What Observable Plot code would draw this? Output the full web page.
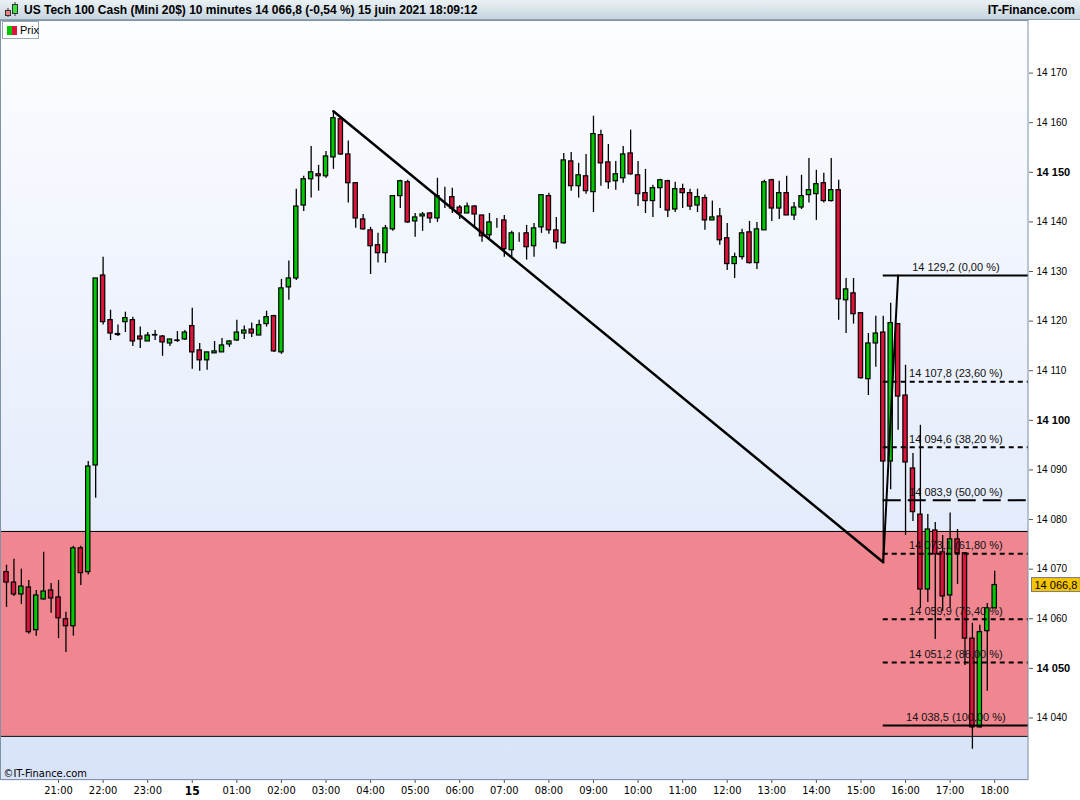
<!DOCTYPE html>
<html><head><meta charset="utf-8">
<script src="https://cdn.jsdelivr.net/npm/d3@7"></script>
<script src="https://cdn.jsdelivr.net/npm/@observablehq/plot@0.6"></script>
<style>
body{margin:0;background:#fff;width:1080px;height:800px;overflow:hidden;font-family:"Liberation Sans",Arial,sans-serif;}
#header{position:absolute;left:0;top:0;width:1080px;height:20px;background:linear-gradient(#eaf1f5,#c7d5df);border-bottom:1px solid #8fa3b3;box-sizing:border-box;}
#icon{position:absolute;left:3px;top:2px;}
#title{position:absolute;left:24px;top:3px;font-weight:bold;font-size:12px;color:#000;white-space:nowrap;}
#site{position:absolute;right:5px;top:3px;font-weight:bold;font-size:12px;color:#000;}
#chart{position:absolute;left:0;top:20px;}
#legend{position:absolute;left:2px;top:21px;width:37px;height:18px;background:#fff;border:1px solid #9aa6b0;box-sizing:border-box;font-size:11px;z-index:2;}
#legend .g{position:absolute;left:4px;top:4px;width:5px;height:9px;background:#00c800;}
#legend .r{position:absolute;left:9px;top:4px;width:5px;height:9px;background:#dc143c;}
#legend span{position:absolute;left:17px;top:2px;}
</style></head>
<body>
<div id="header">
  <svg id="icon" width="18" height="16"><line x1="5" y1="6" x2="5" y2="15" stroke="#333"/><rect x="2.5" y="8.5" width="5" height="5" fill="#f08080" stroke="#333"/><line x1="12" y1="0" x2="12" y2="14" stroke="#333"/><rect x="9.5" y="2.5" width="5" height="9" fill="#40e040" stroke="#333"/></svg>
  <div id="title">US Tech 100 Cash (Mini 20$) 10 minutes 14 066,8 (-0,54 %) 15 juin 2021 18:09:12</div>
  <div id="site">IT-Finance.com</div>
</div>
<div id="legend"><div class="g"></div><div class="r"></div><span>Prix</span></div>
<div id="chart"></div>
<script>
// ---- data (10-minute candles, 14 juin 19:50 -> 15 juin 18:00) ----
const firstCandle = "2021-06-14T19:50:00Z";
const opens = [14069.4,14067.3,14064.9,14066.3,14057.7,14063.9,14065.7,14064.3,14059.9,14058.5,
14074.2,14069.4,14090.9,14129.2,14120.2,14117.4,14119.8,14120.2,14116.9,14115.9,
14117.1,14116.9,14115.5,14116.1,14116.3,14119.0,14114.1,14112.1,14113.5,14113.7,
14115.3,14116.1,14117.5,14118.3,14117.1,14119.4,14121.0,14113.7,14126.8,14128.6,
14143.3,14148.6,14149.6,14149.2,14153.0,14160.7,14153.6,14147.8,14140.5,14138.3,
14135.3,14133.7,14138.5,14145.2,14148.0,14140.1,14141.1,14141.7,14140.7,14145.0,
14145.0,14142.9,14141.7,14143.1,14141.3,14137.3,14140.3,14140.3,14134.3,14137.7,
14137.7,14135.1,14138.9,14145.2,14138.3,14135.7,14152.2,14147.2,14149.2,14146.0,
14157.5,14152.0,14148.2,14148.8,14153.8,14149.4,14145.8,14144.2,14146.8,14148.2,
14142.5,14146.6,14145.8,14143.3,14144.8,14140.3,14141.1,14136.7,14131.5,14132.9,
14137.9,14131.7,14138.3,14148.4,14142.7,14145.8,14141.3,14142.9,14145.4,14145.6,
14147.8,14144.2,14146.4,14124.2,14125.6,14121.6,14108.3,14115.5,14117.7,14091.7,
14119.4,14105.0,14090.3,14081.0,14065.9,14077.8,14073.4,14064.7,14076.0,14073.2,
14056.0,14038.1,14057.5,14062.1];
const highs = [14070.8,14072.0,14070.0,14067.7,14065.7,14073.4,14067.1,14067.7,14061.3,14074.6,
14074.6,14091.7,14128.6,14132.9,14122.2,14119.2,14121.8,14120.8,14118.8,14117.7,
14118.1,14117.1,14116.3,14117.9,14118.1,14122.6,14115.5,14113.7,14115.9,14116.5,
14116.1,14120.2,14119.0,14119.6,14120.2,14122.0,14121.2,14128.4,14132.1,14146.6,
14149.2,14155.2,14151.4,14154.2,14162.3,14160.9,14156.3,14147.8,14141.5,14138.9,
14137.7,14139.3,14145.2,14148.4,14148.4,14141.7,14141.9,14141.9,14148.8,14147.0,
14146.8,14143.3,14143.8,14143.3,14141.3,14141.7,14140.7,14141.3,14138.1,14137.8,
14139.3,14139.7,14145.4,14145.8,14140.9,14153.8,14154.0,14151.8,14153.6,14161.3,
14158.5,14155.6,14152.2,14155.2,14158.5,14152.2,14150.6,14147.4,14148.6,14148.4,
14148.0,14147.6,14146.6,14146.6,14145.4,14144.2,14142.7,14139.7,14133.7,14138.5,
14140.1,14139.9,14148.4,14148.6,14148.2,14149.2,14143.9,14149.4,14152.8,14150.4,
14149.8,14152.8,14148.4,14128.6,14128.6,14121.6,14117.5,14121.0,14121.0,14123.6,
14119.4,14111.1,14093.3,14099.0,14081.0,14079.4,14076.8,14081.3,14078.0,14073.2,
14059.1,14058.7,14063.1,14069.6];
const lows = [14062.3,14064.5,14062.9,14056.9,14056.5,14063.8,14061.1,14056.0,14053.2,14056.5,
14066.7,14068.8,14084.3,14119.2,14116.1,14116.9,14117.7,14114.9,14114.5,14115.9,
14116.1,14112.9,14114.9,14115.7,14116.1,14110.3,14109.9,14110.1,14113.5,14113.7,
14114.7,14115.9,14116.3,14116.7,14117.1,14118.8,14113.7,14113.3,14124.2,14128.2,
14142.1,14144.8,14146.2,14148.8,14150.6,14153.4,14143.8,14138.7,14138.3,14129.4,
14131.7,14131.7,14138.1,14142.7,14139.7,14136.9,14138.1,14139.7,14139.9,14142.7,
14141.7,14140.5,14141.7,14138.9,14135.9,14136.7,14138.7,14132.9,14132.9,14135.9,
14132.3,14132.9,14137.7,14137.5,14134.5,14135.5,14146.2,14144.8,14145.6,14141.9,
14147.2,14146.6,14146.4,14147.8,14149.4,14143.1,14141.7,14140.9,14142.7,14140.9,
14141.9,14142.7,14142.3,14141.9,14138.3,14140.3,14135.3,14130.2,14128.6,14132.3,
14131.5,14130.4,14138.3,14140.1,14140.5,14141.3,14140.3,14142.5,14143.8,14140.3,
14143.8,14144.0,14120.2,14117.5,14119.4,14108.3,14105.0,14110.7,14071.4,14086.0,
14098.0,14076.8,14079.6,14062.1,14063.3,14055.8,14061.5,14062.1,14066.9,14050.6,
14033.7,14038.0,14045.4,14062.1];
const closes = [14067.3,14064.9,14066.5,14057.3,14064.7,14065.5,14064.1,14060.1,14058.5,14074.2,
14069.2,14090.7,14128.6,14119.8,14117.5,14117.2,14120.6,14115.9,14116.3,14117.1,
14117.2,14115.7,14116.3,14116.0,14117.7,14113.7,14112.1,14113.7,14113.9,14115.1,
14115.9,14117.7,14118.1,14117.5,14119.2,14120.8,14113.9,14126.6,14128.6,14143.1,
14148.6,14150.0,14149.2,14153.2,14160.9,14153.6,14147.8,14140.7,14138.5,14135.1,
14133.7,14138.7,14145.2,14148.2,14139.9,14140.9,14141.5,14140.7,14145.2,14145.0,
14142.7,14141.7,14143.1,14141.5,14137.1,14139.9,14140.3,14134.5,14137.7,14137.7,
14134.9,14138.7,14145.4,14138.3,14135.9,14152.4,14147.2,14149.4,14146.2,14157.7,
14151.8,14148.0,14149.6,14153.6,14149.6,14145.6,14144.2,14146.8,14148.4,14142.3,
14146.6,14145.8,14143.1,14145.0,14140.3,14140.9,14136.3,14131.5,14132.9,14137.7,
14131.7,14138.5,14148.0,14142.7,14145.8,14141.3,14142.9,14145.2,14146.4,14147.6,
14144.2,14146.4,14124.4,14126.4,14121.4,14108.5,14115.5,14117.5,14091.7,14119.6,
14104.8,14091.5,14081.5,14065.9,14078.0,14073.0,14064.5,14076.0,14073.2,14056.0,
14038.1,14057.3,14062.1,14066.8];

const yTicks = [14040,14060,14070,14080,14090,14110,14120,14130,14140,14160,14170];
const yTicksBold = [14050,14100,14150];
const xTickTimes = ["2021-06-14T21:00Z","2021-06-14T22:00Z","2021-06-14T23:00Z","2021-06-15T01:00Z","2021-06-15T02:00Z","2021-06-15T03:00Z","2021-06-15T04:00Z","2021-06-15T05:00Z","2021-06-15T06:00Z","2021-06-15T07:00Z","2021-06-15T08:00Z","2021-06-15T09:00Z","2021-06-15T10:00Z","2021-06-15T11:00Z","2021-06-15T12:00Z","2021-06-15T13:00Z","2021-06-15T14:00Z","2021-06-15T15:00Z","2021-06-15T16:00Z","2021-06-15T17:00Z","2021-06-15T18:00Z"];
const xTickDay = ["2021-06-15T00:00Z"];

const zoneLow = 14036.3, zoneHigh = 14077.6;
const fibValues = [14129.2,14107.8,14094.6,14083.9,14073.1,14059.9,14051.2,14038.5];
const fibPercents = ["0,00","23,60","38,20","50,00","61,80","76,40","86,00","100,00"];
const fibStart = "2021-06-15T15:30Z";
const trendTimes = ["2021-06-15T03:10Z","2021-06-15T15:30Z","2021-06-15T15:50Z"];
const trendValues = [14162.3,14071.4,14129.2];
const lastPrice = 14066.8;

// ---- build ----
const loc = d3.formatLocale({decimal:",", thousands:" ", grouping:[3], currency:["","€"]});
const fmt0 = loc.format(",.0f"), fmt1 = loc.format(",.1f");
const t0 = new Date(firstCandle);
const candles = opens.map((o,i)=>({date:d3.utcMinute.offset(t0,10*i), open:o, high:highs[i], low:lows[i], close:closes[i]}));
const xDomain = [new Date(+t0 - 8.1*60000), new Date(+t0 + 1375.5*60000)];
const half = 2.9*60000;
const fibData = fibValues.map((v,i)=>({v, pct:fibPercents[i]}));
const fibX1 = new Date(fibStart);
const fibMid = new Date((+fibX1 + +xDomain[1])/2);
const dashFor = p => (p==="0,00"||p==="100,00") ? null : (p==="50,00" ? "18,7" : "5,4");
const trend = trendTimes.map((t,i)=>({date:new Date(t), v:trendValues[i]}));
const narrow = "'Liberation Sans Narrow','Arial Narrow','DejaVu Sans Condensed',sans-serif";

const chart = Plot.plot({
  width:1080, height:780,
  marginLeft:0, marginRight:52, marginTop:0, marginBottom:20,
  x:{type:"utc", domain:xDomain},
  y:{domain:[14027.4,14180.6]},
  style:{fontFamily:"'Liberation Sans',Arial,sans-serif", background:"white", overflow:"visible"},
  marks:[
    Plot.frame({fill:"url(#bgGrad)"}),
    Plot.rect([{lo:zoneLow, hi:zoneHigh}], {y1:"lo", y2:"hi", fill:"#f0868f"}),
    Plot.ruleY([zoneLow, zoneHigh], {stroke:"#000", strokeWidth:1}),
    Plot.ruleX(candles, {x:"date", y1:"low", y2:"high", stroke:"#000", strokeWidth:1.3}),
    Plot.rect(candles, {
      x1:d=>new Date(+d.date-half), x2:d=>new Date(+d.date+half),
      y1:"open", y2:"close",
      fill:d=>d.close>d.open ? "#00c800" : (d.close<d.open ? "#dc143c" : "#000"),
      stroke:"#000", strokeWidth:1.2
    }),
    Plot.line(trend.slice(0,2), {x:"date", y:"v", stroke:"#000", strokeWidth:2.5}),
    Plot.line(trend.slice(1,3), {x:"date", y:"v", stroke:"#000", strokeWidth:2}),
    ...fibData.map(d=>Plot.ruleY([d], {y:"v", x1:()=>fibX1, x2:()=>xDomain[1], stroke:"#000", strokeWidth:2, strokeDasharray:dashFor(d.pct)})),
    Plot.text(fibData, {x:()=>fibMid, y:"v", text:d=>`${fmt1(d.v)} (${d.pct} %)`, dy:-8, fontSize:11, fill:"#111"}),
    Plot.axisY(yTicks, {anchor:"right", tickFormat:fmt0, tickSize:4, tickPadding:4, fontSize:10, stroke:"#555"}),
    Plot.axisY(yTicksBold, {anchor:"right", tickFormat:fmt0, tickSize:4, tickPadding:4, fontSize:11, fontWeight:"bold", stroke:"#555"}),
    Plot.axisX(xTickTimes.map(t=>new Date(t)), {anchor:"bottom", tickFormat:d3.utcFormat("%H:%M"), tickSize:3, tickPadding:3, fontSize:11, fontFamily:narrow, stroke:"#555"}),
    Plot.axisX(xTickDay.map(t=>new Date(t)), {anchor:"bottom", tickFormat:d3.utcFormat("%d"), tickSize:3, tickPadding:3, fontSize:12, fontWeight:"bold", fontFamily:narrow, stroke:"#555"}),
    Plot.text(["©IT-Finance.com"], {frameAnchor:"bottom-left", dx:3, dy:-4, textAnchor:"start", fontSize:11, fontFamily:narrow, fill:"#000"}),
    Plot.text([lastPrice], {y:d=>d, frameAnchor:"right", dx:6, textAnchor:"start", text:d=>fmt1(d), fontSize:11, fill:"#000", className:"lastprice"})
  ]
});
const svg = d3.select(chart);
const defs = svg.insert("defs", ":first-child");
const gr = defs.append("linearGradient").attr("id","bgGrad").attr("x1",0).attr("y1",0).attr("x2",0).attr("y2",1);
gr.append("stop").attr("offset","0%").attr("stop-color","#fcfdff");
gr.append("stop").attr("offset","100%").attr("stop-color","#d8e3f9");
document.getElementById("chart").appendChild(chart);
// yellow box behind the last price (placed from the text's rendered bbox, same transform)
svg.selectAll(".lastprice text").each(function(){
  const b = this.getBBox();
  const tr = this.getAttribute("transform");
  const r = d3.select(this.parentNode).insert("rect", ":first-child")
    .attr("x", b.x-3).attr("y", b.y-1).attr("width", b.width+6).attr("height", b.height+2)
    .attr("fill","#f6c400").attr("stroke","#7a7a7a");
  if (tr) r.attr("transform", tr);
});
// borders of the plot area
svg.append("rect").attr("x",0.5).attr("y",0.5).attr("width",1027.5).attr("height",759).attr("fill","none").attr("stroke","#7f93a6");
</script>
</body></html>
